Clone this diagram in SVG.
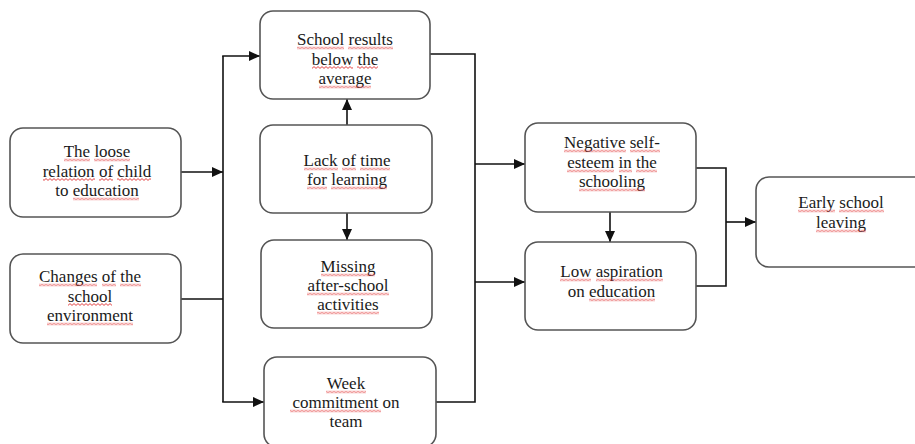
<svg xmlns="http://www.w3.org/2000/svg" width="915" height="444" viewBox="0 0 915 444">
  <style>
    .box { fill: #ffffff; stroke: #555555; stroke-width: 1.6; }
    .lbl { font-family: "Liberation Serif", "Times New Roman", serif; font-size: 17px; fill: #1a1a1a; text-anchor: middle; }
    .sq { fill: url(#wave); }
    .wire { fill: none; stroke: #111111; stroke-width: 1.6; }
  </style>
  <defs>
    <marker id="arrow" markerUnits="userSpaceOnUse" markerWidth="12" markerHeight="10" refX="11" refY="5" orient="auto">
      <path d="M0,0 L11,5 L0,10 Z" fill="#111111"/>
    </marker>
    <!-- red spell-check wave, tiled along x -->
    <pattern id="wave" patternUnits="userSpaceOnUse" width="4" height="3">
      <path d="M0,2.4 L2,0.6 L4,2.4" fill="none" stroke="#e03030" stroke-width="0.9"/>
    </pattern>
  </defs>

  <rect width="915" height="444" fill="#ffffff"/>

  <!-- connectors -->
  <g id="connectors">
    <line class="wire" x1="181" y1="172" x2="223" y2="172" marker-end="url(#arrow)"/>
    <line class="wire" x1="223" y1="56" x2="223" y2="402"/>
    <line class="wire" x1="222.2" y1="56" x2="260" y2="56" marker-end="url(#arrow)"/>
    <line class="wire" x1="181" y1="299" x2="223" y2="299"/>
    <line class="wire" x1="222.2" y1="402" x2="264" y2="402" marker-end="url(#arrow)"/>
    <line class="wire" x1="347" y1="125" x2="347" y2="99" marker-end="url(#arrow)"/>
    <line class="wire" x1="347" y1="213" x2="347" y2="240" marker-end="url(#arrow)"/>
    <polyline class="wire" points="430,54 475,54 475,402 436,402"/>
    <line class="wire" x1="475" y1="164" x2="525" y2="164" marker-end="url(#arrow)"/>
    <line class="wire" x1="475" y1="282" x2="525" y2="282" marker-end="url(#arrow)"/>
    <line class="wire" x1="610" y1="212" x2="610" y2="242" marker-end="url(#arrow)"/>
    <polyline class="wire" points="696,168 726,168 726,286 696,286"/>
    <line class="wire" x1="726" y1="222" x2="756" y2="222" marker-end="url(#arrow)"/>
  </g>

  <g id="loose-relation">
    <rect class="box" x="10" y="128" width="171" height="89" rx="13"/>
    <text class="lbl" x="97" y="157"><tspan>The</tspan> <tspan>loose</tspan></text>
    <text class="lbl" x="97" y="176.5"><tspan>relation</tspan> <tspan>of</tspan> <tspan>child</tspan></text>
    <text class="lbl" x="97" y="196"><tspan>to</tspan> <tspan>education</tspan></text>
    <g transform="translate(0,158.5)"><rect class="sq" x="64" width="26" height="3"/><rect class="sq" x="94" width="36" height="3"/></g>
    <g transform="translate(0,178)"><rect class="sq" x="43" width="52" height="3"/><rect class="sq" x="99" width="14" height="3"/><rect class="sq" x="117" width="34" height="3"/></g>
    <g transform="translate(0,197.5)"><rect class="sq" x="73" width="66" height="3"/></g>
  </g>

  <g id="school-environment">
    <rect class="box" x="10" y="254" width="171" height="89" rx="13"/>
    <text class="lbl" x="90" y="282"><tspan>Changes</tspan> <tspan>of</tspan> <tspan>the</tspan></text>
    <text class="lbl" x="90" y="301.5">school</text>
    <text class="lbl" x="90" y="321">environment</text>
    <g transform="translate(0,283.5)"><rect class="sq" x="39" width="58" height="3"/><rect class="sq" x="102" width="14" height="3"/><rect class="sq" x="120" width="21" height="3"/></g>
    <g transform="translate(0,303)"><rect class="sq" x="68" width="44" height="3"/></g>
    <g transform="translate(0,322.5)"><rect class="sq" x="47" width="86" height="3"/></g>
  </g>

  <g id="school-results">
    <rect class="box" x="260" y="11" width="170" height="88" rx="13"/>
    <text class="lbl" x="345" y="45"><tspan>School</tspan> <tspan>results</tspan></text>
    <text class="lbl" x="345" y="64.5"><tspan>below</tspan> <tspan>the</tspan></text>
    <text class="lbl" x="345" y="84">average</text>
    <g transform="translate(0,46.5)"><rect class="sq" x="297" width="47" height="3"/><rect class="sq" x="348" width="45" height="3"/></g>
    <g transform="translate(0,66)"><rect class="sq" x="312" width="41" height="3"/><rect class="sq" x="357" width="21" height="3"/></g>
    <g transform="translate(0,85.5)"><rect class="sq" x="319" width="52" height="3"/></g>
  </g>

  <g id="lack-of-time">
    <rect class="box" x="260" y="125" width="172" height="88" rx="13"/>
    <text class="lbl" x="347" y="166"><tspan>Lack</tspan> <tspan>of</tspan> <tspan>time</tspan></text>
    <text class="lbl" x="347" y="185"><tspan>for</tspan> <tspan>learning</tspan></text>
    <g transform="translate(0,167.5)"><rect class="sq" x="304" width="34" height="3"/><rect class="sq" x="342" width="14" height="3"/><rect class="sq" x="360" width="30" height="3"/></g>
    <g transform="translate(0,186.5)"><rect class="sq" x="307" width="20" height="3"/><rect class="sq" x="331" width="56" height="3"/></g>
  </g>

  <g id="missing-activities">
    <rect class="box" x="261" y="240" width="171" height="88" rx="13"/>
    <text class="lbl" x="348" y="272">Missing</text>
    <text class="lbl" x="348" y="291">after-school</text>
    <text class="lbl" x="348" y="310">activities</text>
    <g transform="translate(0,273.5)"><rect class="sq" x="321" width="54" height="3"/></g>
    <g transform="translate(0,292.5)"><rect class="sq" x="307" width="82" height="3"/></g>
    <g transform="translate(0,311.5)"><rect class="sq" x="317" width="62" height="3"/></g>
  </g>

  <g id="week-commitment">
    <rect class="box" x="264" y="357" width="172" height="90" rx="13"/>
    <text class="lbl" x="346" y="389">Week</text>
    <text class="lbl" x="346" y="408"><tspan>commitment</tspan> <tspan>on</tspan></text>
    <text class="lbl" x="346" y="427">team</text>
    <g transform="translate(0,390.5)"><rect class="sq" x="326" width="40" height="3"/></g>
    <g transform="translate(0,409.5)"><rect class="sq" x="290" width="91" height="3"/></g>
  </g>

  <g id="negative-self-esteem">
    <rect class="box" x="525" y="123" width="171" height="89" rx="13"/>
    <text class="lbl" x="612" y="148"><tspan>Negative</tspan> <tspan>self-</tspan></text>
    <text class="lbl" x="612" y="168"><tspan>esteem</tspan> <tspan>in</tspan> <tspan>the</tspan></text>
    <text class="lbl" x="612" y="187">schooling</text>
    <g transform="translate(0,149.5)"><rect class="sq" x="564" width="62" height="3"/><rect class="sq" x="630" width="30" height="3"/></g>
    <g transform="translate(0,169.5)"><rect class="sq" x="567" width="47" height="3"/><rect class="sq" x="619" width="13" height="3"/><rect class="sq" x="636" width="21" height="3"/></g>
    <g transform="translate(0,188.5)"><rect class="sq" x="579" width="66" height="3"/></g>
  </g>

  <g id="low-aspiration">
    <rect class="box" x="525" y="242" width="171" height="88" rx="13"/>
    <text class="lbl" x="611.5" y="277"><tspan>Low</tspan> <tspan>aspiration</tspan></text>
    <text class="lbl" x="611.5" y="297"><tspan>on</tspan> <tspan>education</tspan></text>
    <g transform="translate(0,278.5)"><rect class="sq" x="560" width="31" height="3"/><rect class="sq" x="596" width="67" height="3"/></g>
    <g transform="translate(0,298.5)"><rect class="sq" x="589" width="66" height="3"/></g>
  </g>

  <g id="early-school-leaving">
    <rect class="box" x="756" y="177" width="171" height="90" rx="13"/>
    <text class="lbl" x="841" y="208"><tspan>Early</tspan> <tspan>school</tspan></text>
    <text class="lbl" x="841" y="228">leaving</text>
    <g transform="translate(0,209.5)"><rect class="sq" x="798" width="37" height="3"/><rect class="sq" x="839" width="45" height="3"/></g>
    <g transform="translate(0,229.5)"><rect class="sq" x="816" width="50" height="3"/></g>
  </g>
</svg>
